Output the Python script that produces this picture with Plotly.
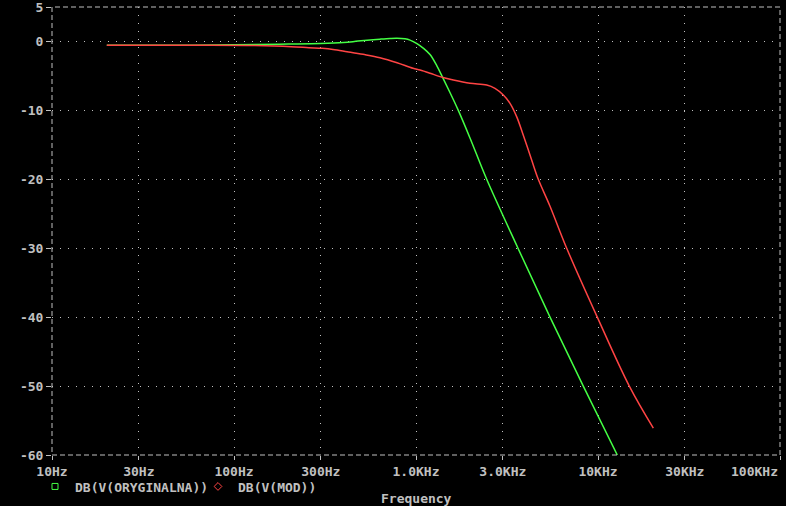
import plotly.graph_objects as go

# Datos (frecuencia en Hz, magnitud en dB)
freq_orig = [20, 60, 130, 200, 300, 400, 480, 560, 634, 720, 787, 870, 927, 1012,
             1100, 1194, 1300, 1400, 1530, 1708, 1980, 2446, 3634, 5449, 8302, 12764]
db_orig = [-0.55, -0.56, -0.44, -0.38, -0.3, -0.15, 0.05, 0.2, 0.33, 0.44, 0.47, 0.38, 0.2, -0.3,
           -1.0, -1.9, -3.5, -5.2, -7.3, -10.0, -14.0, -20.0, -30.0, -40.0, -50.0, -60.0]

freq_mod = [20, 60, 130, 206, 258, 305, 350, 418, 512, 634, 787, 963, 1052, 1195, 1355,
            1603, 1980, 2446, 2716, 3018, 3285, 3573, 3887, 4320, 4699, 5449, 6730,
            9910, 14860, 20140]
db_mod = [-0.55, -0.56, -0.6, -0.75, -0.9, -1.0, -1.15, -1.48, -1.87, -2.35, -3.08, -3.9, -4.14,
          -4.6, -5.1, -5.59, -6.07, -6.32, -6.8, -7.77, -8.97, -10.9, -13.6, -17.2, -20.0,
          -23.9, -30.0, -40.0, -50.0, -56.1]

x_ticks = [10, 30, 100, 300, 1000, 3000, 10000, 30000, 100000]
x_labels = ["10Hz", "30Hz", "100Hz", "300Hz", "1.0KHz", "3.0KHz", "10KHz", "30KHz", "100KHz"]
y_ticks = [5, 0, -10, -20, -30, -40, -50, -60]
y_labels = ["5", "0", "-10", "-20", "-30", "-40", "-50", "-60"]

gris = "#c0c0c0"
verde = "#44ff44"
rojo = "#ff4444"
fuente = dict(family="DejaVu Sans Mono", size=13, color=gris, weight="bold")

fig = go.Figure()

fig.add_trace(go.Scatter(x=freq_orig, y=db_orig, mode="lines", showlegend=False,
                         line=dict(color=verde, width=1.5, shape="spline", smoothing=1)))
fig.add_trace(go.Scatter(x=freq_mod, y=db_mod, mode="lines", showlegend=False,
                         line=dict(color=rojo, width=1.5, shape="spline", smoothing=1)))

# Entradas de leyenda (solo simbolos, como en PSpice)
fig.add_trace(go.Scatter(x=[None], y=[None], mode="markers", name="DB(V(ORYGINALNA))",
                         marker=dict(symbol="square-open", size=6, color=verde, line=dict(width=1))))
fig.add_trace(go.Scatter(x=[None], y=[None], mode="markers", name="DB(V(MOD))",
                         marker=dict(symbol="diamond-open", size=6, color=rojo, line=dict(width=1))))

fig.update_layout(
    width=786, height=506,
    margin=dict(l=52, r=6, t=7, b=51, autoexpand=False),
    paper_bgcolor="black",
    plot_bgcolor="black",
    font=fuente,
    legend=dict(orientation="h", xref="container", yref="container",
                x=35 / 786, y=1 - 486.5 / 506, xanchor="left", yanchor="middle",
                font=fuente, bgcolor="rgba(0,0,0,0)", itemwidth=30,
                entrywidth=118, entrywidthmode="pixels", tracegroupgap=0),
    # la ultima etiqueta (100KHz) va alineada a la derecha, se pone aparte
    xaxis=dict(type="log", range=[1, 5], tickvals=x_ticks, ticktext=x_labels[:-1] + [""],
               showgrid=True, gridcolor=gris, griddash="1px,7px", gridwidth=1,
               ticks="outside", ticklen=4, tickcolor=gris, showline=False, zeroline=False),
    yaxis=dict(range=[-60, 5], tickvals=y_ticks, ticktext=y_labels,
               ticklabeloverflow="allow",
               showgrid=True, gridcolor=gris, griddash="1px,7px", gridwidth=1,
               ticks="outside", ticklen=5, tickcolor=gris, showline=False, zeroline=False),
)

fig.add_annotation(text=x_labels[-1], xref="x", yref="paper", x=5, y=0, yshift=-16,
                   xanchor="right", yanchor="middle", showarrow=False, font=fuente)

# Titulo del eje X debajo de la leyenda
fig.add_annotation(text="Frequency", xref="paper", yref="paper", x=0.5, y=0,
                   yshift=-43, xanchor="center", yanchor="middle", showarrow=False, font=fuente)

# Marco discontinuo alrededor del area de trazado
fig.add_shape(type="rect", xref="paper", yref="paper", x0=0, x1=1, y0=0, y1=1,
              line=dict(color=gris, width=1, dash="5px,3px"), layer="above")

fig.write_html("out.html", config={"displayModeBar": False},
               post_script="document.body.style.margin='0px';")
